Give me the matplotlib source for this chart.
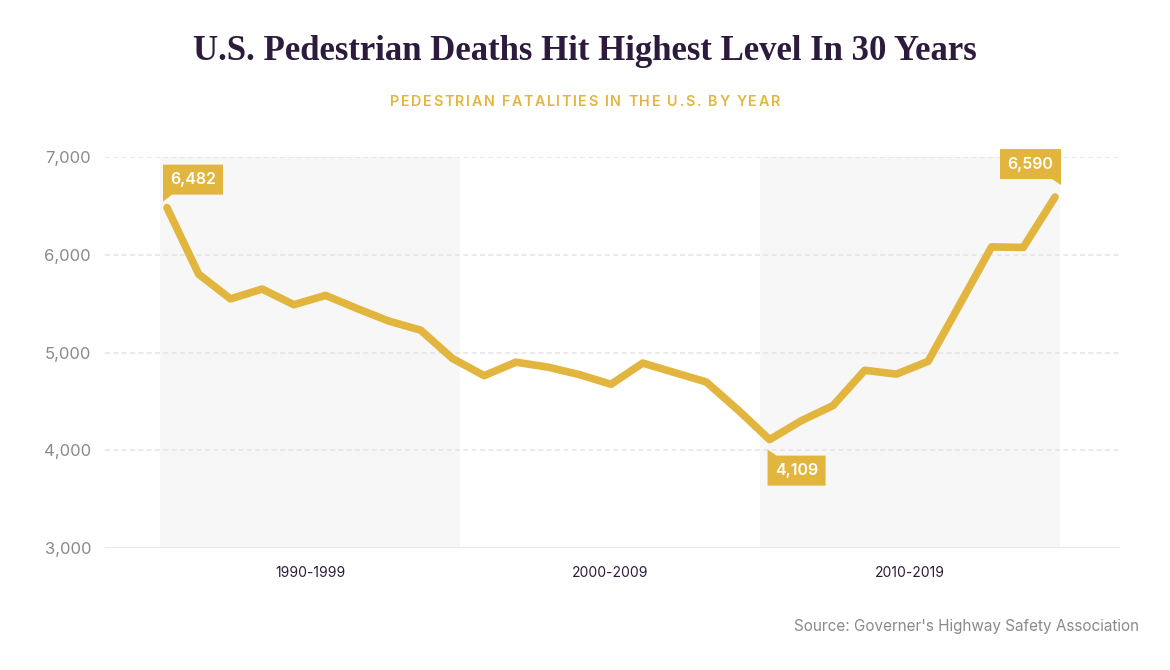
import matplotlib.pyplot as plt
import matplotlib.transforms as mtransforms
from matplotlib.patches import Polygon

years = list(range(1990, 2019))
deaths = [6482, 5801, 5549, 5649, 5489, 5584, 5449, 5321, 5228, 4939,
          4763, 4901, 4851, 4774, 4675, 4892, 4795, 4699, 4414, 4109,
          4302, 4457, 4818, 4779, 4910, 5494, 6080, 6075, 6590]
decades = ["1990-1999", "2000-2009", "2010-2019"]
y_ticks = [3000, 4000, 5000, 6000, 7000]
callouts = [(1990, 6482, "6,482"), (2009, 4109, "4,109"), (2018, 6590, "6,590")]

gold = "#E2B53E"
purple = "#2D1B3D"
grey = "#8A8A8A"

plt.rcParams['font.family'] = ['Inter', 'DejaVu Sans']

W, H = 1170, 670
fig = plt.figure(figsize=(W / 100, H / 100), dpi=100)
ax = fig.add_axes([105 / W, 1 - 548 / H, 1015 / W, 391 / H])

ppy = (1055 - 167) / 28.0  # pixels per year
ax.set_xlim(1990 - (167 - 105) / ppy, 2018 + (1120 - 1055) / ppy)
ax.set_ylim(3000, 7000)

# shaded decade bands (thirds of the plotted span)
b0 = 1990 - 7 / ppy
b1 = 2018 + 5 / ppy
w = (b1 - b0) / 3
for i in range(3):
    if i != 1:
        ax.axvspan(b0 + i * w, b0 + (i + 1) * w, color="#F7F7F7", lw=0, zorder=0)
    ax.text(b0 + (i + 0.5) * w, 2740, decades[i], ha="center", va="center",
            fontsize=10, color=purple)

for v in y_ticks[1:]:
    ax.axhline(v, color="#E6E6E6", lw=1.2, ls=(0, (3, 2)), zorder=1)
ax.axhline(3000, color="#E6E6E6", lw=2, zorder=1)

ax.plot(years, deaths, color=gold, lw=5.5, solid_capstyle="round",
        solid_joinstyle="round", zorder=3)

ax.set_yticks(y_ticks)
ax.set_yticklabels([f"{v:,}" for v in y_ticks], fontsize=12, color=grey)
ax.tick_params(axis="y", length=0, pad=10)
ax.set_xticks([])
for s in ax.spines.values():
    s.set_visible(False)

# callout boxes: outline in pixels relative to the data point, then text centre
shapes = {
    "6,482": ([(-4, 13), (-4, 43), (56, 43), (56, 13), (5, 13), (-4, 6)], (26, 28)),
    "4,109": ([(-2, -46), (56, -46), (56, -16), (7, -16), (-2, -10)], (27, -31)),
    "6,590": ([(-55, 18), (-55, 48), (6, 48), (6, 12), (-3, 18)], (-24.5, 33)),
}
for x, y, label in callouts:
    pts, (tx, ty) = shapes[label]
    trans = fig.dpi_scale_trans + mtransforms.ScaledTranslation(x, y, ax.transData)
    ax.add_patch(Polygon([(px / 100, py / 100) for px, py in pts], closed=True,
                         facecolor=gold, edgecolor="none", transform=trans,
                         clip_on=False, zorder=4))
    ax.text(tx / 100, ty / 100, label, transform=trans, ha="center", va="center",
            fontsize=11.5, color="white", fontweight="semibold", zorder=5)

fig.text(585 / W, 1 - 52 / H, "U.S. Pedestrian Deaths Hit Highest Level In 30 Years",
         ha="center", va="center", fontsize=25, color=purple,
         family=["Liberation Serif", "DejaVu Serif"], fontweight="bold")

# subtitle with letter spacing, drawn one character at a time
sub = "PEDESTRIAN FATALITIES IN THE U.S. BY YEAR"
track = 1.6
renderer = fig.canvas.get_renderer()
widths = []
for ch in sub:
    t = fig.text(0, 0, ch.replace(" ", "n"), fontsize=10.3, fontweight="semibold")
    wch = t.get_window_extent(renderer).width
    if ch == " ":
        wch *= 0.45
    widths.append(wch)
    t.remove()
total = sum(widths) + track * (len(sub) - 1)
xpos = 585 - total / 2
for ch, wch in zip(sub, widths):
    if ch != " ":
        fig.text(xpos / W, 1 - 102 / H, ch, ha="left", va="center",
                 fontsize=10.3, color=gold, fontweight="semibold")
    xpos += wch + track

fig.text(1139 / W, 1 - 627 / H, "Source: Governer's Highway Safety Association",
         ha="right", va="center", fontsize=11, color=grey)

fig.savefig("out.png", dpi=100, facecolor="white")
